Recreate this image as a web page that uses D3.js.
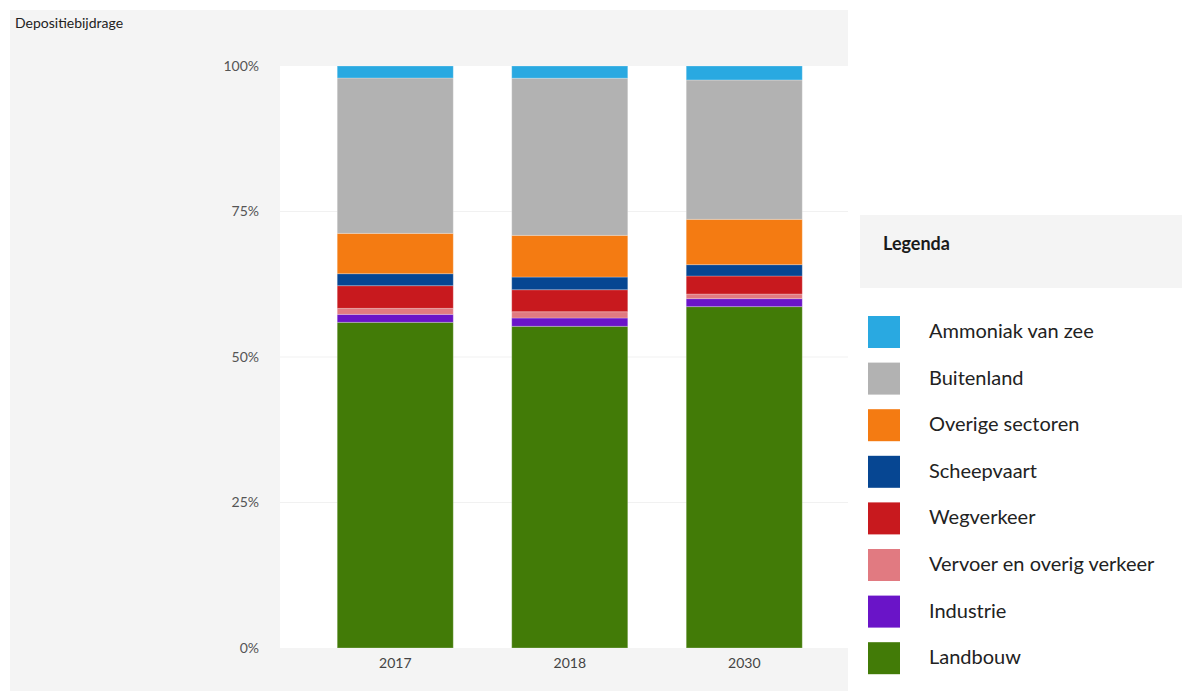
<!DOCTYPE html>
<html>
<head>
<meta charset="utf-8">
<script src="https://cdn.jsdelivr.net/npm/d3@7"></script>
<style>
  body { margin: 0; background: #fff; font-family: Lato, "Open Sans", sans-serif; }
  svg { display: block; }
</style>
</head>
<body>
<svg id="chart" width="1182" height="691"></svg>
<script>
// categories (x axis)
var years = ['2017', '2018', '2030'];

// share per sector, in %
var landbouw    = [55.96, 55.27, 58.65];
var industrie   = [1.37, 1.43, 1.37];
var vervoer     = [1.03, 1.08, 0.80];
var wegverkeer  = [3.90, 3.78, 3.09];
var scheepvaart = [2.06, 2.18, 1.95];
var overige     = [6.93, 7.16, 7.79];
var buitenland  = [26.70, 27.00, 23.94];
var ammoniak    = [2.06, 2.10, 2.40];

// stack order, bottom to top
var sectors = ['Landbouw', 'Industrie', 'Vervoer en overig verkeer', 'Wegverkeer',
  'Scheepvaart', 'Overige sectoren', 'Buitenland', 'Ammoniak van zee'];
var series = [landbouw, industrie, vervoer, wegverkeer, scheepvaart, overige, buitenland, ammoniak];
var colors = ['#427b07', '#6a14c8', '#e17a81', '#c8191e', '#064692', '#f47b12', '#b2b2b2', '#29a9e1'];

var yTicks = [0, 0.25, 0.5, 0.75, 1];

var svg = d3.select('#chart');

// grey panel behind the chart
svg.append('rect')
  .attr('x', 10).attr('y', 10)
  .attr('width', 838).attr('height', 681)
  .attr('fill', '#f4f4f4');

// white plot area
var plot = { left: 280, right: 848, top: 66, bottom: 648 };
svg.append('rect')
  .attr('x', plot.left).attr('y', plot.top)
  .attr('width', plot.right - plot.left).attr('height', plot.bottom - plot.top)
  .attr('fill', '#fff');

svg.append('text')
  .attr('x', 15).attr('y', 28)
  .attr('font-size', 14)
  .attr('fill', '#222')
  .text('Depositiebijdrage');

var rows = years.map(function(y, i) {
  var r = { year: y };
  sectors.forEach(function(s, k) { r[s] = series[k][i]; });
  return r;
});

var stack = d3.stack().keys(sectors).offset(d3.stackOffsetExpand);
var layers = stack(rows);

var x = d3.scaleBand()
  .domain(years)
  .range([308, 831.5])
  .paddingInner(0.335)
  .paddingOuter(0.1675);

var y = d3.scaleLinear()
  .domain([0, 1])
  .range([plot.bottom, plot.top]);

// grid lines
svg.append('g')
  .selectAll('line')
  .data(yTicks.filter(function(t) { return t > 0 && t < 1; }))
  .enter().append('line')
  .attr('x1', plot.left).attr('x2', plot.right)
  .attr('y1', function(d) { return y(d); })
  .attr('y2', function(d) { return y(d); })
  .attr('stroke', '#f1f1f1')
  .attr('stroke-width', 1);

// bars
svg.append('g')
  .selectAll('g')
  .data(layers)
  .enter().append('g')
  .attr('fill', function(d, i) { return colors[i]; })
  .selectAll('rect')
  .data(function(d) { return d; })
  .enter().append('rect')
  .attr('x', function(d) { return x(d.data.year); })
  .attr('y', function(d) { return y(d[1]); })
  .attr('width', x.bandwidth())
  .attr('height', function(d) { return y(d[0]) - y(d[1]); })
  .attr('stroke', 'rgba(255,255,255,0.25)')
  .attr('stroke-width', 1);

// y axis
var yAxis = svg.append('g')
  .attr('transform', 'translate(' + 262 + ',0)')
  .call(d3.axisLeft(y).tickValues(yTicks).tickFormat(d3.format('.0%')).tickSize(0).tickPadding(3));
yAxis.select('.domain').remove();
yAxis.selectAll('text')
  .attr('font-family', 'Lato, sans-serif')
  .attr('font-size', 14)
  .attr('fill', '#555');

// x axis
var xAxis = svg.append('g')
  .attr('transform', 'translate(0,' + plot.bottom + ')')
  .call(d3.axisBottom(x).tickSize(0).tickPadding(10));
xAxis.select('.domain').remove();
xAxis.selectAll('text')
  .attr('font-family', 'Lato, sans-serif')
  .attr('font-size', 14)
  .attr('fill', '#444');

// legend
svg.append('rect')
  .attr('x', 860).attr('y', 215)
  .attr('width', 322).attr('height', 73)
  .attr('fill', '#f4f4f4');
svg.append('text')
  .attr('x', 883).attr('y', 244)
  .attr('dy', '0.35em')
  .attr('font-size', 18)
  .attr('font-weight', 'bold')
  .attr('fill', '#1a1a1a')
  .text('Legenda');

var legendOrder = sectors.slice().reverse();
var legend = svg.append('g')
  .selectAll('g')
  .data(legendOrder)
  .enter().append('g')
  .attr('transform', function(d, i) { return 'translate(868,' + (316 + i * 46.6) + ')'; });

legend.append('rect')
  .attr('width', 32).attr('height', 32)
  .attr('fill', function(d) { return colors[sectors.indexOf(d)]; });

legend.append('text')
  .attr('x', 61).attr('y', 15)
  .attr('dy', '0.35em')
  .attr('font-size', 20)
  .attr('fill', '#222')
  .text(function(d) { return d; });
</script>
</body>
</html>
